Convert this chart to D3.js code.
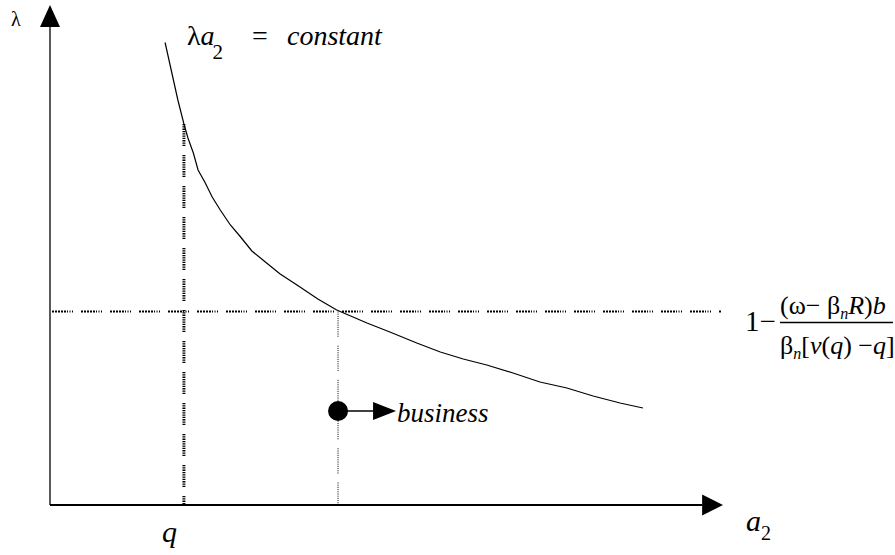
<!DOCTYPE html>
<html>
<head>
<meta charset="utf-8">
<script src="https://cdn.jsdelivr.net/npm/d3@7"></script>
<style>
  body { margin: 0; background: #fff; }
  svg text { font-family: "Liberation Serif", "Times New Roman", "DejaVu Serif", serif; fill: #000; }
</style>
</head>
<body>
<div id="chart"></div>
<script>
const width = 895;
const height = 555;
const serif = "'Liberation Serif', 'Times New Roman', 'DejaVu Serif', serif";

// iso-curve lambda * a2 = constant (axis units 0..100)
const curve_a2 = [17.1, 19.0, 19.9, 20.5, 21.3, 22.0, 23.0, 24.1, 25.3, 26.8, 28.2, 30.0, 32.0, 34.2, 36.7, 39.8, 42.6, 47.1, 50.5, 54.5, 58.0, 61.4, 64.9, 68.8, 72.8, 76.8, 80.7, 84.7, 88.1];
const curve_lambda = [92.5, 81.0, 76.2, 73.4, 70.4, 67.0, 64.6, 61.6, 59.0, 56.0, 53.8, 50.8, 48.6, 46.2, 44.0, 41.2, 39.0, 36.4, 34.6, 32.4, 30.6, 29.2, 28.0, 26.4, 24.6, 23.4, 21.8, 20.4, 19.4];

// reference levels
const q_level = 19.9;
const q_top = 76.2;
const lambda_level = 38.7;
const business_a2 = 42.8;
const business_lambda = 18.8;

const svg = d3.select('#chart')
              .append('svg')
              .attr('width', width)
              .attr('height', height)
              .attr('font-family', serif);

const xScale = d3.scaleLinear().domain([0, 100]).range([50, 723]);
const yScale = d3.scaleLinear().domain([0, 100]).range([505, 5]);

function dots(n, on, off, gap){
    let a = [];
    for(let i = 0; i < n; i++){ a.push(on, off); }
    a[a.length - 1] = gap;
    return a.join(',');
}

// axes
const x0 = xScale(0), y0 = yScale(0);
svg.append('line')
    .attr('x1', x0).attr('y1', y0)
    .attr('x2', x0).attr('y2', yScale(95.6))
    .attr('stroke', '#000').attr('stroke-width', 1.3);
svg.append('line')
    .attr('x1', x0).attr('y1', y0)
    .attr('x2', xScale(96.9)).attr('y2', y0)
    .attr('stroke', '#000').attr('stroke-width', 2);

// arrow heads
svg.append('path')
    .attr('d', `M${x0},${yScale(100)} L${x0 - 10},${yScale(95.6)} L${x0 + 10},${yScale(95.6)} Z`)
    .attr('fill', '#000');
svg.append('path')
    .attr('d', `M${xScale(100)},${y0} L${xScale(96.9)},${y0 - 10.5} L${xScale(96.9)},${y0 + 10.5} Z`)
    .attr('fill', '#000');

// horizontal dashed level
svg.append('line')
    .attr('x1', xScale(0.3)).attr('y1', yScale(lambda_level))
    .attr('x2', xScale(99.7)).attr('y2', yScale(lambda_level))
    .attr('stroke', '#000').attr('stroke-width', 2.2)
    .attr('stroke-dasharray', '2,1,2,1,2,1,2,1,2,1,1,1.5,1,1.5,1,8');

// vertical q line
svg.append('line')
    .attr('x1', xScale(q_level)).attr('y1', yScale(q_top))
    .attr('x2', xScale(q_level)).attr('y2', y0)
    .attr('stroke', '#000').attr('stroke-width', 3)
    .attr('stroke-dasharray', dots(10, 1.3, 1, 9));

// vertical business line
svg.append('line')
    .attr('x1', xScale(business_a2)).attr('y1', yScale(lambda_level))
    .attr('x2', xScale(business_a2)).attr('y2', y0)
    .attr('stroke', '#000').attr('stroke-width', 1)
    .attr('stroke-dasharray', dots(12, 1, 1.2, 9));

// curve
const curve_data = curve_a2.map(function(d, i){ return {x: d, y: curve_lambda[i]}; });
const line = d3.line()
    .x(function(d){ return xScale(d.x); })
    .y(function(d){ return yScale(d.y); });
svg.append('path')
    .datum(curve_data)
    .attr('d', line)
    .attr('fill', 'none')
    .attr('stroke', '#000')
    .attr('stroke-width', 1.2);

// business point and arrow
const bx = xScale(business_a2), by = yScale(business_lambda);
svg.append('line')
    .attr('x1', bx).attr('y1', by)
    .attr('x2', bx + 38).attr('y2', by)
    .attr('stroke', '#000').attr('stroke-width', 1.3);
svg.append('path')
    .attr('d', `M${bx + 58},${by} L${bx + 35},${by - 9} L${bx + 35},${by + 9} Z`)
    .attr('fill', '#000');
svg.append('circle')
    .attr('cx', bx).attr('cy', by).attr('r', 10)
    .attr('fill', '#000');
svg.append('text')
    .attr('x', bx + 59).attr('y', by + 11)
    .attr('font-size', 27).attr('font-style', 'italic')
    .text('business');

// axis labels
svg.append('text')
    .attr('x', 11).attr('y', 26)
    .attr('font-size', 20)
    .text('λ');
const a2 = svg.append('text')
    .attr('x', 746).attr('y', 531)
    .attr('font-size', 30).attr('font-style', 'italic');
a2.append('tspan').text('a');
a2.append('tspan').attr('font-size', 20).attr('dy', 9).attr('font-style', 'normal').text('2');
svg.append('text')
    .attr('x', 162).attr('y', 542)
    .attr('font-size', 30).attr('font-style', 'italic')
    .text('q');

// curve label
const title = svg.append('text')
    .attr('x', 187).attr('y', 45)
    .attr('font-size', 28);
title.append('tspan').text('λ');
title.append('tspan').attr('font-style', 'italic').text('a');
title.append('tspan').attr('font-size', 21).attr('dy', 14).attr('dx', -2).text('2');
title.append('tspan').attr('dy', -14).attr('x', 252).text('=');
title.append('tspan').attr('font-style', 'italic').attr('x', 287).text('constant');

// right formula
const fx = 745, fy = yScale(lambda_level);
svg.append('text')
    .attr('x', fx).attr('y', fy + 19)
    .attr('font-size', 29)
    .text('1−');
svg.append('line')
    .attr('x1', fx + 35).attr('y1', fy + 11)
    .attr('x2', fx + 148).attr('y2', fy + 11)
    .attr('stroke', '#000').attr('stroke-width', 1.5);
const num = svg.append('text')
    .attr('x', fx + 35).attr('y', fy + 2)
    .attr('font-size', 26);
num.append('tspan').text('(ω− β');
num.append('tspan').attr('font-size', 16).attr('dy', 5).attr('font-style', 'italic').text('n');
num.append('tspan').attr('dy', -5).attr('font-style', 'italic').text('R');
num.append('tspan').text(')');
num.append('tspan').attr('font-style', 'italic').text('b');
const den = svg.append('text')
    .attr('x', fx + 35).attr('y', fy + 42)
    .attr('font-size', 26);
den.append('tspan').text('β');
den.append('tspan').attr('font-size', 16).attr('dy', 5).attr('font-style', 'italic').text('n');
den.append('tspan').attr('dy', -5).text('[');
den.append('tspan').attr('font-style', 'italic').text('v');
den.append('tspan').text('(');
den.append('tspan').attr('font-style', 'italic').text('q');
den.append('tspan').text(') −');
den.append('tspan').attr('font-style', 'italic').text('q');
den.append('tspan').text(']');
</script>
</body>
</html>
